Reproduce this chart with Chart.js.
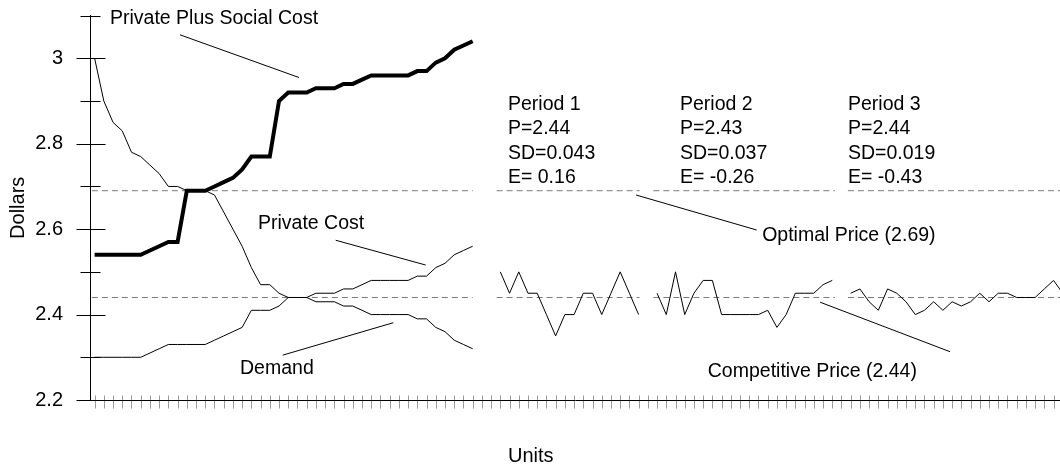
<!DOCTYPE html>
<html>
<head>
<meta charset="utf-8">
<script src="https://cdn.jsdelivr.net/npm/chart.js@4/dist/chart.umd.min.js"></script>
<style>
  html, body { margin: 0; padding: 0; background: #fff; }
  #wrap { width: 1060px; height: 470px; }
</style>
</head>
<body>
<div id="wrap"><canvas id="chart" width="1060" height="470"></canvas></div>
<script>
// Induced demand and cost schedules, units 1..42
const demand = [3.00,2.90,2.85,2.83,2.78,2.77,2.75,2.73,2.70,2.70,2.69,2.69,2.69,2.68,2.64,2.60,2.56,2.51,2.47,2.47,2.45,2.44,2.44,2.44,2.43,2.43,2.43,2.42,2.42,2.41,2.40,2.40,2.40,2.40,2.40,2.39,2.39,2.37,2.36,2.34,2.33,2.32];
const privateCost = [2.30,2.30,2.30,2.30,2.30,2.30,2.31,2.32,2.33,2.33,2.33,2.33,2.33,2.34,2.35,2.36,2.37,2.41,2.41,2.41,2.42,2.44,2.44,2.44,2.45,2.45,2.45,2.46,2.46,2.47,2.48,2.48,2.48,2.48,2.48,2.49,2.49,2.51,2.52,2.54,2.55,2.56];
const privatePlusSocial = [2.54,2.54,2.54,2.54,2.54,2.54,2.55,2.56,2.57,2.57,2.69,2.69,2.69,2.70,2.71,2.72,2.74,2.77,2.77,2.77,2.90,2.92,2.92,2.92,2.93,2.93,2.93,2.94,2.94,2.95,2.96,2.96,2.96,2.96,2.96,2.97,2.97,2.99,3.00,3.02,3.03,3.04];

// Contract prices in each trading period
const period1Prices = [2.50,2.45,2.50,2.45,2.45,2.40,2.35,2.40,2.40,2.45,2.45,2.40,2.45,2.50,2.45,2.40];
const period2Prices = [2.45,2.40,2.50,2.40,2.45,2.48,2.48,2.40,2.40,2.40,2.40,2.40,2.41,2.37,2.40,2.45,2.45,2.45,2.47,2.48];
const period3Prices = [2.45,2.46,2.43,2.41,2.46,2.45,2.43,2.40,2.41,2.43,2.41,2.43,2.42,2.43,2.45,2.43,2.45,2.45,2.44,2.44,2.44,2.46,2.48,2.45];

// First unit of each series
const scheduleStart = 1;
const periodStarts = [45, 62, 83];

// Reference prices and the stretches they are drawn over
const optimalPrice = 2.69;
const competitivePrice = 2.44;
const refSpans = [[0.7, 42], [44.6, 60.1], [61.6, 81.3], [82.7, 106]];

// Period summary text
const periodNames = ['Period 1', 'Period 2', 'Period 3'];
const periodMeans = ['2.44', '2.43', '2.44'];
const periodSD = ['0.043', '0.037', '0.019'];
const periodE = [' 0.16', ' -0.26', ' -0.43'];

// Axis ticks
const yTicks = [2.2, 2.3, 2.4, 2.5, 2.6, 2.7, 2.8, 2.9, 3.0, 3.1];
const yTickLabels = ['2.2', '', '2.4', '', '2.6', '', '2.8', '', '3', ''];
const xTickCount = 105;

const toPoints = (vals, start) => vals.map((v, i) => ({ x: start + i, y: v }));
const refLine = (price) => {
  const pts = [];
  refSpans.forEach((s, i) => {
    if (i > 0) pts.push({ x: (refSpans[i - 1][1] + s[0]) / 2, y: null });
    pts.push({ x: s[0], y: price }, { x: s[1], y: price });
  });
  return pts;
};

const FONT = '"Liberation Sans", Arial, Helvetica, sans-serif';
const thin = { borderColor: '#000', borderWidth: 1, pointRadius: 0, fill: false, tension: 0 };
const dashed = { borderColor: '#7a7a7a', borderWidth: 1, borderDash: [6, 4], pointRadius: 0, fill: false, spanGaps: false };

// Callouts, in data units: [text, x, baseline y]
const labels = [
  ['Private Plus Social Cost', 2.67, 3.080],
  ['Private Cost', 18.72, 2.600],
  ['Demand', 16.77, 2.261],
  ['Optimal Price (2.69)', 73.4, 2.572],
  ['Competitive Price (2.44)', 67.5, 2.254]
];
// Leader lines, in data units: [x1, y1, x2, y2]
const leaders = [
  [10.26, 3.055, 23.17, 2.955],
  [27.15, 2.574, 36.91, 2.516],
  [21.4, 2.305, 33.4, 2.381],
  [59.72, 2.680, 72.8, 2.598],
  [79.68, 2.429, 93.78, 2.313]
];
const periodTextX = [45.83, 64.49, 82.71];
const periodTextY = [2.879, 2.823, 2.764, 2.708];

const axisMarks = {
  id: 'axisMarks',
  beforeDraw(chart) {
    const { ctx, chartArea, scales: { x } } = chart;
    ctx.save();
    ctx.strokeStyle = '#9a9a9a';
    ctx.lineWidth = 1;
    const yb = Math.round(chartArea.bottom) + 0.5;
    ctx.beginPath();
    for (let u = 1; u <= xTickCount; u++) {
      const px = Math.round(x.getPixelForValue(u)) + 0.5;
      ctx.moveTo(px, yb - 5);
      ctx.lineTo(px, yb + 8);
    }
    ctx.stroke();
    ctx.restore();
  },
  afterDraw(chart) {
    const { ctx, chartArea, scales: { x, y } } = chart;
    ctx.save();
    // y-axis tick marks crossing the axis
    ctx.strokeStyle = '#000';
    ctx.lineWidth = 1;
    const ax = Math.round(chartArea.left) + 0.5;
    ctx.beginPath();
    yTicks.forEach((v, i) => {
      const py = Math.round(y.getPixelForValue(v)) + 0.5;
      const major = yTickLabels[i] !== '';
      ctx.moveTo(ax - (major ? 14 : 10), py);
      ctx.lineTo(ax + (major ? 15 : 10), py);
    });
    ctx.stroke();

    // leader lines
    ctx.beginPath();
    leaders.forEach(([x1, y1, x2, y2]) => {
      ctx.moveTo(x.getPixelForValue(x1), y.getPixelForValue(y1));
      ctx.lineTo(x.getPixelForValue(x2), y.getPixelForValue(y2));
    });
    ctx.stroke();

    ctx.fillStyle = '#000';
    ctx.font = '19.5px ' + FONT;
    ctx.textBaseline = 'alphabetic';
    ctx.textAlign = 'left';
    labels.forEach(([t, lx, ly]) => {
      ctx.fillText(t, x.getPixelForValue(lx), y.getPixelForValue(ly));
    });
    periodNames.forEach((name, i) => {
      const lines = [name, 'P=' + periodMeans[i], 'SD=' + periodSD[i], 'E=' + periodE[i]];
      lines.forEach((t, k) => {
        ctx.fillText(t, x.getPixelForValue(periodTextX[i]), y.getPixelForValue(periodTextY[k]));
      });
    });

    // x-axis title
    ctx.textAlign = 'center';
    ctx.font = '20px ' + FONT;
    ctx.fillText('Units', x.getPixelForValue(48.3), 462);
    ctx.restore();
  }
};

new Chart(document.getElementById('chart'), {
  type: 'line',
  data: {
    datasets: [
      { label: 'Private Plus Social Cost', data: toPoints(privatePlusSocial, scheduleStart), ...thin, borderWidth: 4 },
      { label: 'Private Cost', data: toPoints(privateCost, scheduleStart), ...thin },
      { label: 'Demand', data: toPoints(demand, scheduleStart), ...thin },
      { label: 'Period 1', data: toPoints(period1Prices, periodStarts[0]), ...thin },
      { label: 'Period 2', data: toPoints(period2Prices, periodStarts[1]), ...thin },
      { label: 'Period 3', data: toPoints(period3Prices, periodStarts[2]), ...thin },
      { label: 'Optimal Price', data: refLine(optimalPrice), ...dashed },
      { label: 'Competitive Price', data: refLine(competitivePrice), ...dashed }
    ]
  },
  options: {
    responsive: false,
    animation: false,
    devicePixelRatio: 1,
    layout: { padding: { top: 15.6, right: 0, left: 0, bottom: 0 } },
    plugins: { legend: { display: false }, tooltip: { enabled: false } },
    scales: {
      x: {
        type: 'linear',
        min: 0.5,
        max: 105.7,
        ticks: { display: false },
        grid: { display: false, drawTicks: false },
        border: { display: true, color: '#000', width: 1 },
        afterFit: (s) => { s.height = 70; }
      },
      y: {
        type: 'linear',
        min: 2.2,
        max: 3.1,
        afterBuildTicks: (s) => { s.ticks = yTicks.map(v => ({ value: v })); },
        ticks: {
          color: '#000',
          padding: 2,
          font: { family: FONT, size: 20 },
          callback: (v, i) => yTickLabels[i]
        },
        grid: { display: false, drawTicks: true, tickLength: 25 },
        border: { display: true, color: '#000', width: 1 },
        title: { display: true, text: 'Dollars', color: '#000', font: { family: FONT, size: 20 }, padding: { top: 6, bottom: 0 } },
        afterFit: (s) => { s.width = 90; }
      }
    }
  },
  plugins: [axisMarks]
});
</script>
</body>
</html>
